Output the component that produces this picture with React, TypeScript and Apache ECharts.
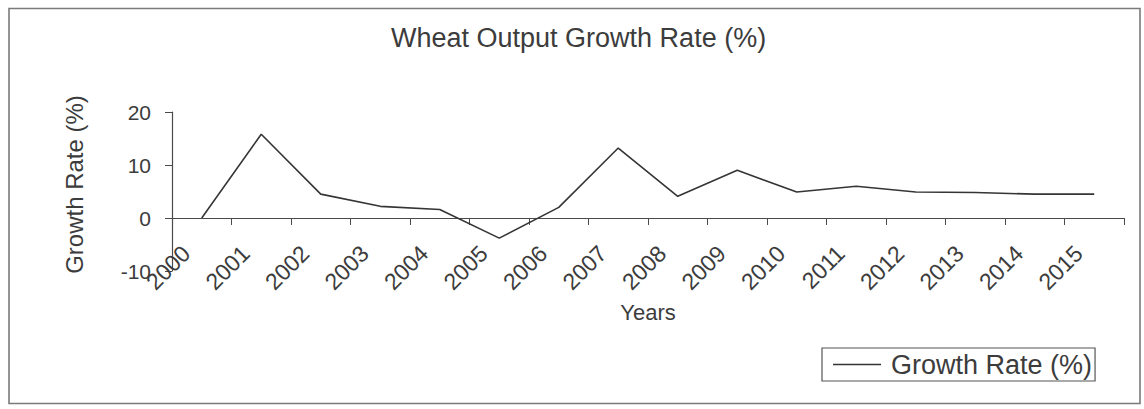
import React, { useEffect, useRef } from "react";
import * as echarts from "echarts";

const years = [
  "2000", "2001", "2002", "2003", "2004", "2005", "2006", "2007",
  "2008", "2009", "2010", "2011", "2012", "2013", "2014", "2015",
];
const growthRate = [
  0, 15.8, 4.5, 2.2, 1.6, -3.8, 2.0, 13.2,
  4.1, 9.0, 4.9, 6.0, 4.9, 4.8, 4.5, 4.5,
];
const yTicks = { min: -10, max: 20, interval: 10 };

const FONT = "'Liberation Sans', Arial, sans-serif";
const TEXT = "#3c3c3c";
const AXIS = "#4a4a4a";

export default function App() {
  const ref = useRef<HTMLDivElement>(null);

  useEffect(() => {
    document.body.style.margin = "0";
    const chart = echarts.init(ref.current!, undefined, { renderer: "svg" });
    chart.setOption({
      animation: false,
      backgroundColor: "#ffffff",
      textStyle: { fontFamily: FONT, color: TEXT },
      title: {
        text: "Wheat Output Growth Rate (%)",
        left: 391,
        top: 24,
        padding: 0,
        textStyle: { fontFamily: FONT, fontSize: 27, fontWeight: "normal", color: TEXT },
      },
      graphic: [
        {
          type: "rect",
          shape: { x: 9, y: 8.5, width: 1131, height: 395 },
          style: { fill: "none", stroke: "#7a7a7a", lineWidth: 1.6 },
          silent: true,
        },
      ],
      legend: {
        left: 822,
        top: 348,
        orient: "horizontal",
        padding: [3, 3, 3, 11],
        borderColor: "#555555",
        borderWidth: 1.2,
        itemWidth: 48,
        itemHeight: 1.6,
        textStyle: { fontFamily: FONT, fontSize: 27, color: TEXT, padding: [0, 0, 0, 5] },
        data: [{ name: "Growth Rate (%)", icon: "rect" }],
      },
      grid: { left: 172, right: 20, top: 112, height: 159, containLabel: false },
      xAxis: {
        type: "category",
        data: years,
        boundaryGap: true,
        name: "Years",
        nameLocation: "middle",
        nameGap: 30,
        nameTextStyle: { fontFamily: FONT, fontSize: 22, color: TEXT },
        axisLine: { onZero: true, lineStyle: { color: AXIS, width: 1.2 } },
        axisTick: { show: true, length: 7, inside: false, lineStyle: { color: AXIS } },
        axisLabel: {
          interval: 0,
          rotate: 45,
          margin: -37,
          padding: [0, 22, 0, 0],
          fontFamily: FONT,
          fontSize: 23,
          color: TEXT,
        },
        splitLine: { show: false },
      },
      yAxis: {
        type: "value",
        min: yTicks.min,
        max: yTicks.max,
        interval: yTicks.interval,
        name: "Growth Rate (%)",
        nameLocation: "middle",
        nameGap: 86,
        nameTextStyle: { fontFamily: FONT, fontSize: 24, color: TEXT, padding: [0, 0, 0, 14] },
        axisLine: { show: true, lineStyle: { color: AXIS, width: 1.2 } },
        axisTick: { show: true, length: 7, lineStyle: { color: AXIS } },
        axisLabel: { margin: 21, fontFamily: FONT, fontSize: 21, color: TEXT },
        splitLine: { show: false },
      },
      series: [
        {
          name: "Growth Rate (%)",
          type: "line",
          data: growthRate,
          symbol: "none",
          lineStyle: { color: "#353535", width: 1.6 },
          itemStyle: { color: "#353535" },
        },
      ],
    });
    return () => chart.dispose();
  }, []);

  return <div ref={ref} style={{ width: 1144, height: 409 }} />;
}
